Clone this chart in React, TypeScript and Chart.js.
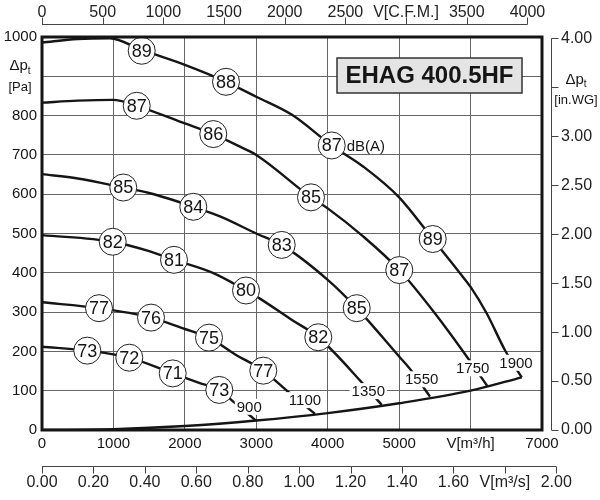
import { useEffect, useRef } from "react";
import { Chart, registerables } from "chart.js";

Chart.register(...registerables);

const FONT = "'Liberation Sans', Arial, sans-serif";
const INK = "#151515";

// fan curves, airflow [m3/h] vs total pressure [Pa], one per speed [rpm]
const flow900 = [0, 634, 1222, 1830, 2200, 2482, 2678, 2996];
const pres900 = [212, 202, 184, 144, 120, 102, 72, 24];
const flow1100 = [0, 798, 1526, 2000, 2338, 2700, 3098, 3462, 3822];
const pres1100 = [325, 310, 286, 257, 235, 193, 151, 95, 41];
const flow1350 = [0, 990, 1500, 1848, 2400, 2856, 3000, 3500, 3868, 4498, 4756];
const pres1350 = [496, 479, 455, 433, 399, 355, 340, 280, 236, 117, 64];
const flow1550 = [0, 500, 1138, 1500, 2118, 2500, 3000, 3356, 4000, 4406, 5000, 5162, 5432];
const pres1550 = [651, 640, 617, 603, 568, 543, 500, 471, 382, 310, 187, 153, 85];
const flow1750 = [0, 500, 994, 1326, 2000, 2398, 2772, 3000, 3766, 4000, 4500, 5002, 5500, 5946, 6234];
const pres1750 = [833, 838, 840, 825, 780, 753, 721, 700, 592, 564, 492, 407, 297, 187, 112];
const flow1900 = [0, 500, 950, 1396, 2000, 2576, 3000, 3500, 4056, 4500, 5000, 5470, 5852, 6000, 6225, 6482, 6716];
const pres1900 = [986, 995, 997, 967, 929, 886, 848, 802, 724, 670, 592, 486, 399, 364, 297, 203, 134];

// lower limit of the working range
const limitFlow = [0, 1000, 2000, 3000, 4000, 5000, 6000, 6716];
const limitPres = [0, 2, 10, 24, 43, 68, 100, 134];

// speed labels at the end of each curve
const rpmText = ["900", "1100", "1350", "1550", "1750", "1900"];
const rpmFlow = [2902, 3682, 4568, 5316, 6030, 6636];
const rpmPres = [59, 76, 99, 129, 157, 171];

// sound level markers dB(A)
const dbText = [
  "89", "88", "87", "89",
  "87", "86", "85", "87",
  "85", "84", "83", "85",
  "82", "81", "80", "82",
  "77", "76", "75", "77",
  "73", "72", "71", "73",
];
const dbFlow = [
  1396, 2576, 4056, 5470,
  1326, 2398, 3766, 5002,
  1138, 2118, 3356, 4406,
  990, 1848, 2856, 3868,
  798, 1526, 2338, 3098,
  634, 1222, 1830, 2482,
];
const dbPres = [
  965, 886, 724, 486,
  825, 753, 592, 407,
  617, 568, 471, 310,
  479, 433, 355, 236,
  310, 286, 235, 151,
  202, 184, 144, 102,
];

const title = "EHAG 400.5HF";
const cfmTicks = [0, 500, 1000, 1500, 2000, 2500, 3000, 3500, 4000];
const inwgTicks = [0, 0.5, 1, 1.5, 2, 2.5, 3, 3.5, 4];
const m3sTicks = [0, 0.2, 0.4, 0.6, 0.8, 1.0, 1.2, 1.4, 1.6, 1.8, 2.0];

const CFM = 1.699; // m3/h per cfm
const PA_PER_INWG = 249.089;

function curve(flow: number[], pres: number[]) {
  return {
    data: flow.map((q, i) => ({ x: q, y: pres[i] })),
    borderColor: INK,
    borderWidth: 2.4,
    pointRadius: 0,
    fill: false,
    cubicInterpolationMode: "monotone",
    order: 2,
  };
}

function drawDp(ctx: CanvasRenderingContext2D, cx: number, cy: number, unit: string) {
  ctx.textBaseline = "middle";
  ctx.font = `15px ${FONT}`;
  const w1 = ctx.measureText("Δp").width;
  ctx.font = `10px ${FONT}`;
  const w2 = ctx.measureText("t").width;
  const x0 = cx - (w1 + w2) / 2;
  ctx.textAlign = "left";
  ctx.font = `15px ${FONT}`;
  ctx.fillText("Δp", x0, cy);
  ctx.font = `10px ${FONT}`;
  ctx.fillText("t", x0 + w1, cy + 5);
  ctx.textAlign = "center";
  ctx.font = `13px ${FONT}`;
  ctx.fillText(unit, cx, cy + 21);
}

const decor = {
  id: "decor",
  afterDatasetsDraw(chart: any) {
    const { ctx, chartArea: a, scales } = chart;
    const sx = scales.x;
    const sy = scales.y;
    ctx.save();

    // numbers in the dB circles
    const meta = chart.getDatasetMeta(0);
    ctx.fillStyle = INK;
    ctx.textAlign = "center";
    ctx.textBaseline = "middle";
    ctx.font = `18px ${FONT}`;
    meta.data.forEach((pt: any, i: number) => ctx.fillText(dbText[i], pt.x, pt.y + 1));
    const ref = meta.data[2];
    ctx.font = `15px ${FONT}`;
    ctx.textAlign = "left";
    ctx.fillText("dB(A)", ref.x + 15, ref.y + 1);

    // rpm labels
    ctx.textAlign = "center";
    rpmText.forEach((t, i) => {
      const x = sx.getPixelForValue(rpmFlow[i]);
      const y = sy.getPixelForValue(rpmPres[i]);
      const w = ctx.measureText(t).width;
      ctx.fillStyle = "#fff";
      ctx.fillRect(x - w / 2 - 2, y - 8, w + 4, 16);
      ctx.fillStyle = INK;
      ctx.fillText(t, x, y + 1);
    });

    // model box
    const bx = a.right - 205;
    const by = a.top + 21;
    ctx.fillStyle = "#e4e4e4";
    ctx.fillRect(bx, by, 185, 35);
    ctx.strokeStyle = "#333";
    ctx.lineWidth = 1.5;
    ctx.strokeRect(bx, by, 185, 35);
    ctx.fillStyle = INK;
    ctx.font = `bold 24px ${FONT}`;
    ctx.textAlign = "center";
    ctx.fillText(title, bx + 92.5, by + 18.5);

    // plot frame
    ctx.strokeStyle = INK;
    ctx.lineWidth = 3;
    ctx.strokeRect(a.left, a.top, a.right - a.left, a.bottom - a.top);

    // secondary axes: lines and tick marks
    ctx.strokeStyle = "#444";
    ctx.lineWidth = 1;
    const top = scales.xTop;
    const ty = a.top - 12.5;
    ctx.beginPath();
    ctx.moveTo(top.getPixelForValue(0), ty);
    ctx.lineTo(top.getPixelForValue(4000), ty);
    top.ticks.forEach((t: any) => {
      const x = Math.round(top.getPixelForValue(t.value)) + 0.5;
      ctx.moveTo(x, ty);
      ctx.lineTo(x, ty - 7);
    });
    const right = scales.y2;
    const rx = a.right + 9.5;
    ctx.moveTo(rx, right.getPixelForValue(0));
    ctx.lineTo(rx, right.getPixelForValue(4));
    right.ticks.forEach((t: any) => {
      const y = Math.round(right.getPixelForValue(t.value)) + 0.5;
      ctx.moveTo(rx, y);
      ctx.lineTo(rx + 7, y);
    });
    const bot = scales.x2;
    const by2 = a.bottom + 36.5;
    ctx.moveTo(bot.getPixelForValue(0), by2);
    ctx.lineTo(bot.getPixelForValue(2), by2);
    bot.ticks.forEach((t: any) => {
      const x = Math.round(bot.getPixelForValue(t.value)) + 0.5;
      ctx.moveTo(x, by2);
      ctx.lineTo(x, by2 + 7);
    });
    ctx.stroke();

    // pressure axis titles
    ctx.fillStyle = INK;
    drawDp(ctx, 20, sy.getPixelForValue(900) - 10, "[Pa]");
    drawDp(ctx, a.right + 34, right.getPixelForValue(3.5) - 8, "[in.WG]");

    ctx.restore();
  },
};

const fixTicks = (values: number[]) => (s: any) => {
  s.ticks = values.map((v) => ({ value: v }));
};

export default function App() {
  const ref = useRef<HTMLCanvasElement>(null);

  useEffect(() => {
    if (!ref.current) return;
    const tickFont = { family: FONT, size: 15 };
    const subFont = { family: FONT, size: 16 };
    const chart = new Chart(ref.current, {
      type: "line",
      data: {
        datasets: [
          {
            data: dbFlow.map((q, i) => ({ x: q, y: dbPres[i] })),
            showLine: false,
            pointRadius: 13.5,
            pointBackgroundColor: "#fff",
            pointBorderColor: "#222",
            pointBorderWidth: 1,
            order: 0,
          },
          curve(flow900, pres900),
          curve(flow1100, pres1100),
          curve(flow1350, pres1350),
          curve(flow1550, pres1550),
          curve(flow1750, pres1750),
          curve(flow1900, pres1900),
          curve(limitFlow, limitPres),
        ] as any,
      },
      options: {
        responsive: true,
        maintainAspectRatio: false,
        animation: false,
        layout: { padding: 0 },
        plugins: { legend: { display: false }, tooltip: { enabled: false } },
        scales: {
          x: {
            type: "linear",
            position: "bottom",
            min: 0,
            max: 7000,
            weight: 0,
            afterFit: (s: any) => { s.height = 25; },
            grid: { color: "#666", lineWidth: 1, drawTicks: false },
            border: { display: false },
            ticks: {
              stepSize: 1000,
              padding: 5,
              color: INK,
              font: tickFont,
              maxRotation: 0,
              autoSkip: false,
              callback: (v: any) => (v === 6000 ? "V[m³/h]" : String(v)),
            },
          },
          x2: {
            type: "linear",
            position: "bottom",
            min: 0,
            max: 7000 / 3600,
            weight: 1,
            afterFit: (s: any) => { s.height = 45; },
            afterBuildTicks: fixTicks(m3sTicks),
            grid: { display: false, drawTicks: false },
            border: { display: false },
            ticks: {
              padding: 18,
              color: "#222",
              font: subFont,
              maxRotation: 0,
              autoSkip: false,
              callback: (v: any) => (Math.abs(v - 1.8) < 1e-6 ? "V[m³/s]" : Number(v).toFixed(2)),
            },
          },
          xTop: {
            type: "linear",
            position: "top",
            min: 0,
            max: 7000 / CFM,
            afterFit: (s: any) => { s.height = 37; },
            afterBuildTicks: fixTicks(cfmTicks),
            grid: { display: false, drawTicks: false },
            border: { display: false },
            ticks: {
              padding: 15,
              color: "#222",
              font: subFont,
              maxRotation: 0,
              autoSkip: false,
              callback: (v: any) => (v === 3000 ? "V[C.F.M.]" : String(v)),
            },
          },
          y: {
            type: "linear",
            position: "left",
            min: 0,
            max: 1000,
            afterFit: (s: any) => { s.width = 42; },
            grid: { color: "#666", lineWidth: 1, drawTicks: false },
            border: { display: false },
            ticks: {
              stepSize: 100,
              padding: 5,
              color: INK,
              font: tickFont,
              autoSkip: false,
              callback: (v: any) => (v === 900 ? "" : String(v)),
            },
          },
          y2: {
            type: "linear",
            position: "right",
            min: 0,
            max: 1000 / PA_PER_INWG,
            afterFit: (s: any) => { s.width = 58; },
            afterBuildTicks: fixTicks(inwgTicks),
            grid: { display: false, drawTicks: false },
            border: { display: false },
            ticks: {
              padding: 19,
              color: "#222",
              font: subFont,
              autoSkip: false,
              callback: (v: any) => (Math.abs(v - 3.5) < 1e-6 ? "" : Number(v).toFixed(2)),
            },
          },
        },
      } as any,
      plugins: [decor],
    });
    return () => chart.destroy();
  }, []);

  return (
    <div style={{ position: "absolute", left: 0, top: 0, width: 600, height: 500, background: "#fff" }}>
      <canvas ref={ref} />
    </div>
  );
}
